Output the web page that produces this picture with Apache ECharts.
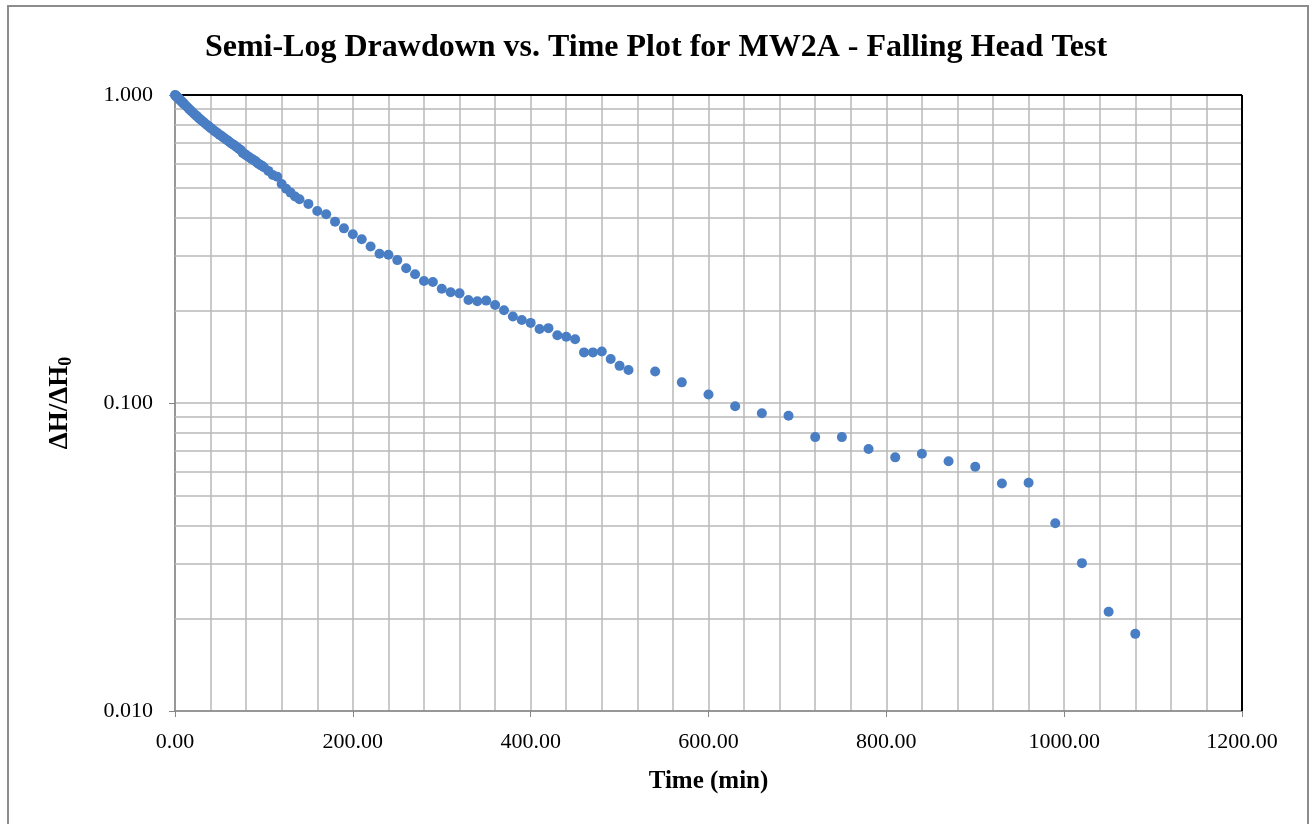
<!DOCTYPE html>
<html>
<head>
<meta charset="utf-8">
<script src="https://cdn.jsdelivr.net/npm/echarts@6/dist/echarts.min.js"></script>
<style>
  html, body { margin: 0; padding: 0; background: #fff; }
  #frame { position: absolute; left: 7px; top: 5px; width: 1302px; height: 830px; border: 2px solid #8c8c8c; box-sizing: border-box; }
  #main { position: absolute; left: 0; top: 0; width: 1312px; height: 824px; }
</style>
</head>
<body>
<div id="frame"></div>
<div id="main"></div>
<script>
// time (min)
var timeMin = [0, 0.5, 1, 1.5, 2, 2.5, 3, 4, 5, 6, 7, 8, 9, 10, 12, 14, 16, 18, 20,
  22, 24, 26, 28, 30, 32, 34, 36, 38, 40, 42, 44, 46, 48, 50, 52, 54, 56, 58, 60,
  62, 64, 66, 68, 70, 72, 74, 76, 78, 80, 82, 84, 86, 88, 90, 92, 94, 96, 98, 100,
  105, 110, 115, 120, 125, 130, 135, 140, 150, 160, 170, 180, 190, 200, 210, 220, 230, 240,
  250, 260, 270, 280, 290, 300, 310, 320, 330, 340, 350, 360, 370, 380, 390, 400,
  410, 420, 430, 440, 450, 460, 470, 480, 490, 500, 510,
  540, 570, 600, 630, 660, 690, 720, 750, 780, 810, 840, 870, 900, 930, 960, 990,
  1020, 1050, 1080];
// dH/dH0
var headRatio = [1.000, 0.997, 0.994, 0.991, 0.988, 0.985, 0.982, 0.975, 0.968, 0.962, 0.955, 0.949, 0.943, 0.936, 0.924, 0.912, 0.900, 0.889, 0.877,
  0.866, 0.857, 0.846, 0.836, 0.826, 0.817, 0.808, 0.799, 0.791, 0.782, 0.774, 0.766, 0.758, 0.751, 0.743, 0.737, 0.729, 0.722, 0.716, 0.709,
  0.701, 0.695, 0.689, 0.682, 0.676, 0.668, 0.663, 0.650, 0.644, 0.638, 0.632, 0.627, 0.621, 0.616, 0.611, 0.604, 0.598, 0.593, 0.588, 0.583,
  0.567, 0.550, 0.543, 0.514, 0.496, 0.482, 0.468, 0.459, 0.443, 0.420, 0.410, 0.388, 0.369, 0.353, 0.340, 0.322, 0.305, 0.303,
  0.291, 0.274, 0.262, 0.249, 0.247, 0.235, 0.229, 0.227, 0.216, 0.214, 0.215, 0.208, 0.200, 0.191, 0.186, 0.182,
  0.174, 0.175, 0.166, 0.164, 0.161, 0.146, 0.146, 0.147, 0.139, 0.132, 0.128,
  0.1265, 0.1167, 0.1066, 0.0976, 0.0926, 0.0909, 0.0775, 0.0775, 0.0709, 0.0666, 0.0684, 0.0647, 0.0621, 0.0548, 0.0551, 0.0407,
  0.0302, 0.0210, 0.0178];
// minor horizontal grid values
var minorGrid = [0.02, 0.03, 0.04, 0.05, 0.06, 0.07, 0.08, 0.09, 0.2, 0.3, 0.4, 0.5, 0.6, 0.7, 0.8, 0.9];

var chart = echarts.init(document.getElementById('main'));

var pts = [];
for (var i = 0; i < timeMin.length; i++) {
  pts.push([timeMin[i], headRatio[i]]);
}
var gridLines = [];
for (var j = 0; j < minorGrid.length; j++) {
  gridLines.push({ yAxis: minorGrid[j] });
}
// black plot-area border on top and right
gridLines.push({ yAxis: 1, lineStyle: { color: '#000', width: 2 } });
gridLines.push({ xAxis: 1200, lineStyle: { color: '#000', width: 2 } });

var serif = 'Liberation Serif';
var option = {
  animation: false,
  title: {
    text: 'Semi-Log Drawdown vs. Time Plot for MW2A - Falling Head Test',
    left: 'center',
    top: 27,
    textStyle: { fontFamily: serif, fontSize: 32, fontWeight: 'bold', color: '#000' }
  },
  grid: {
    left: 175, top: 95, right: 70, bottom: 113
  },
  xAxis: {
    type: 'value',
    min: 0, max: 1200, interval: 200,
    name: 'Time (min)',
    nameLocation: 'middle',
    nameGap: 58,
    nameTextStyle: { fontFamily: serif, fontSize: 25, fontWeight: 'bold', color: '#000' },
    axisLine: { lineStyle: { color: '#868686', width: 1.5 } },
    axisTick: { show: true, length: 6, lineStyle: { color: '#868686' } },
    axisLabel: {
      margin: 20, fontFamily: serif, fontSize: 22, color: '#000',
      formatter: function (v) { return v.toFixed(2); }
    },
    splitLine: { lineStyle: { color: '#b9b9b9', width: 1.5 } },
    minorTick: { show: false, splitNumber: 5 },
    minorSplitLine: { show: true, lineStyle: { color: '#b9b9b9', width: 1.5 } }
  },
  yAxis: {
    type: 'log',
    logBase: 10,
    min: 0.01, max: 1,
    name: '{a|ΔH/ΔH}{b|0}',
    nameLocation: 'middle',
    nameGap: 100,
    nameRotate: 90,
    nameTextStyle: {
      rich: {
        a: { fontFamily: serif, fontSize: 27, fontWeight: 'bold', color: '#000' },
        b: { fontFamily: serif, fontSize: 18, fontWeight: 'bold', color: '#000', padding: [12, 0, 0, 0] }
      }
    },
    axisLine: { show: true, lineStyle: { color: '#868686', width: 1.5 } },
    axisTick: { show: true, length: 6, lineStyle: { color: '#868686' } },
    axisLabel: {
      margin: 22, fontFamily: serif, fontSize: 22, color: '#000',
      formatter: function (v) { return v.toFixed(3); }
    },
    splitLine: { lineStyle: { color: '#b9b9b9', width: 1.5 } },
    minorSplitLine: { show: false }
  },
  series: [{
    type: 'scatter',
    data: pts,
    symbol: 'circle',
    symbolSize: 10,
    itemStyle: { color: '#4a7ec4', opacity: 1 },
    z: 5,
    markLine: {
      silent: true,
      symbol: 'none',
      label: { show: false },
      lineStyle: { color: '#b9b9b9', width: 1.5, type: 'solid' },
      emphasis: { disabled: true },
      z: 1,
      data: gridLines
    }
  }]
};
chart.setOption(option);
</script>
</body>
</html>
